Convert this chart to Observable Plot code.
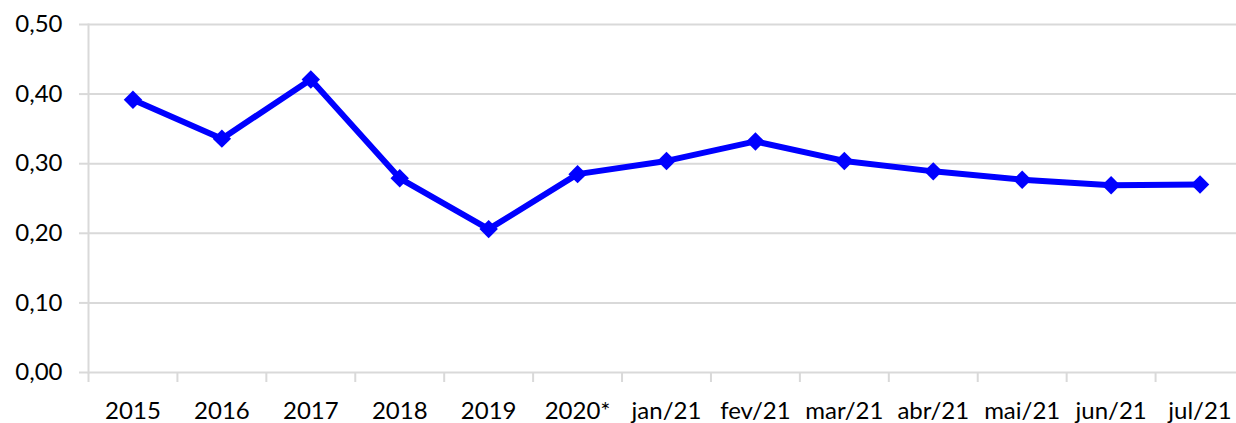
<!DOCTYPE html>
<html>
<head>
<meta charset="utf-8">
<script src="https://cdn.jsdelivr.net/npm/d3@7"></script>
<script src="https://cdn.jsdelivr.net/npm/@observablehq/plot@0.6"></script>
<style>
  html, body { margin: 0; padding: 0; background: #fff; overflow: hidden; }
  #chart svg { display: block; font-family: Lato, "Open Sans", sans-serif; }
</style>
</head>
<body>
<div id="chart"></div>
<script>
const categories = ["2015", "2016", "2017", "2018", "2019", "2020*", "jan/21", "fev/21", "mar/21", "abr/21", "mai/21", "jun/21", "jul/21"];
const values = [0.392, 0.336, 0.421, 0.279, 0.206, 0.285, 0.304, 0.332, 0.304, 0.289, 0.277, 0.269, 0.270];
const yTicks = [0, 0.1, 0.2, 0.3, 0.4, 0.5];

const data = categories.map((c, i) => ({cat: c, v: values[i]}));
const fmt = v => d3.format(".2f")(v).replace(".", ",");

const width = 1236, height = 423;
const marginLeft = 88, marginRight = -8;
const step = (width - marginRight - marginLeft) / categories.length;
const grid = "#d9d9d9";

const chart = Plot.plot({
  width, height,
  marginTop: 24, marginBottom: 51, marginLeft, marginRight,
  style: {fontFamily: "Lato, 'Open Sans', sans-serif", fontSize: "24px", color: "#000", background: "#fff", overflow: "visible"},
  x: {type: "point", domain: categories, padding: 0.5, round: false, label: null},
  y: {domain: [0, 0.5], label: null},
  marks: [
    Plot.gridY(yTicks, {stroke: grid, strokeOpacity: 1, strokeWidth: 2}),
    Plot.axisY(yTicks, {tickSize: 9, tickPadding: 17, tickFormat: fmt, stroke: grid, strokeWidth: 2, fill: "#000", fontSize: 24}),
    Plot.frame({anchor: "left", stroke: grid, strokeWidth: 2}),
    Plot.axisX({tickSize: 10, tickFormat: () => "", stroke: grid, strokeWidth: 2, dx: -step / 2}),
    Plot.axisX({tickSize: 0, tickPadding: 29, fill: "#000", fontSize: 24}),
    Plot.lineY(data, {x: "cat", y: "v", stroke: "#0000ff", strokeWidth: 6}),
    Plot.dot(data, {x: "cat", y: "v", symbol: "diamond2", r: 8.3, fill: "#0000ff", stroke: "none"})
  ]
});
document.getElementById("chart").appendChild(chart);
</script>
</body>
</html>
